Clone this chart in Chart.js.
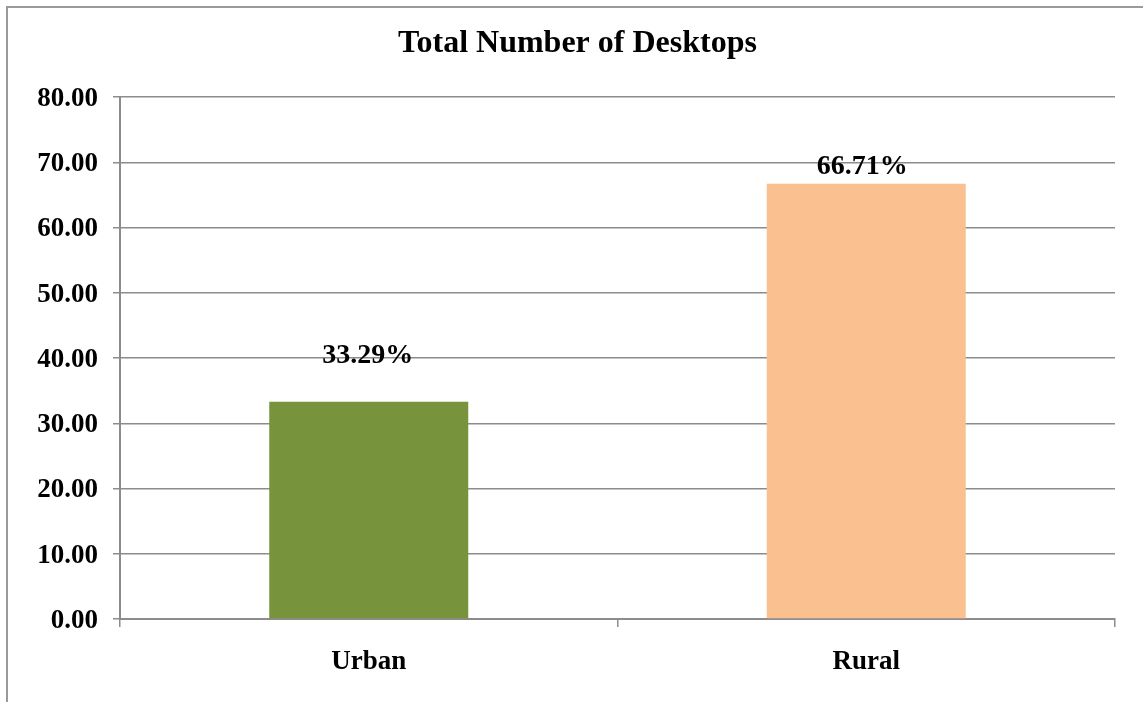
<!DOCTYPE html>
<html>
<head>
<meta charset="utf-8">
<script src="https://cdn.jsdelivr.net/npm/chart.js@4/dist/chart.umd.min.js"></script>
<style>
  html, body { margin: 0; padding: 0; background: #fff; overflow: hidden; }
  #frame {
    position: absolute; left: 6px; top: 6px; width: 1300px; height: 800px;
    border: 2px solid #9a9a9a; box-sizing: border-box;
  }
  #wrap { position: absolute; left: 0; top: 0; width: 1143px; height: 702px; }
</style>
</head>
<body>
<div id="frame"></div>
<div id="wrap"><canvas id="desktopsChart" width="1143" height="702"></canvas></div>
<script>
// data
const categories = ['Urban', 'Rural'];
const desktopShare = [33.29, 66.71];
const valueLabels = ['33.29%', '66.71%'];
const barColors = ['#77933C', '#FAC090'];
const yTicks = [0, 10, 20, 30, 40, 50, 60, 70, 80];
const chartTitle = 'Total Number of Desktops';

// how far above each bar top the label sits (px), and sideways nudge
const labelLift = [46, 17];
const labelShift = [-1, -4];

const serif = "'Liberation Serif', 'Times New Roman', serif";
const gridGray = '#8c8c8c';

// title drawn by hand so it can sit a bit right of the canvas middle (like Excel did)
const excelTitle = {
    id: 'excelTitle',
    afterDraw(chart) {
        const ctx = chart.ctx;
        ctx.save();
        ctx.font = 'bold 32px ' + serif;
        ctx.fillStyle = '#000';
        ctx.textAlign = 'center';
        ctx.textBaseline = 'middle';
        ctx.fillText(chartTitle, (40 + chart.chartArea.right) / 2, 44);
        ctx.restore();
    }
};

// draws the percentage labels above the bars
const barLabels = {
    id: 'barLabels',
    afterDatasetsDraw(chart) {
        const ctx = chart.ctx;
        const meta = chart.getDatasetMeta(0);
        ctx.save();
        ctx.font = 'bold 28px ' + serif;
        ctx.fillStyle = '#000';
        ctx.textAlign = 'center';
        ctx.textBaseline = 'middle';
        meta.data.forEach(function (bar, i) {
            ctx.fillText(valueLabels[i], bar.x + labelShift[i], bar.y - labelLift[i]);
        });
        ctx.restore();
    }
};

const ctx = document.getElementById('desktopsChart').getContext('2d');
const desktopsChart = new Chart(ctx, {
    type: 'bar',
    data: {
        labels: categories,
        datasets: [{
            data: desktopShare,
            backgroundColor: barColors,
            borderWidth: 0,
            categoryPercentage: 1,
            barPercentage: 0.4
        }]
    },
    options: {
        responsive: false,
        animation: false,
        layout: { padding: { left: 0, right: 28, top: 97, bottom: 0 } },
        plugins: {
            legend: { display: false },
            tooltip: { enabled: false },
            title: { display: false }
        },
        scales: {
            x: {
                grid: {
                    display: true,
                    offset: true,
                    drawOnChartArea: false,
                    drawTicks: true,
                    tickLength: 8,
                    color: gridGray,
                    lineWidth: 1.5
                },
                border: { display: true, color: gridGray, width: 2 },
                ticks: {
                    color: '#000',
                    padding: 19,
                    font: { family: serif, size: 27, weight: 'bold' }
                },
                afterFit(scale) { scale.height = 702 - 619; }
            },
            y: {
                min: 0,
                max: 80,
                afterBuildTicks(scale) {
                    scale.ticks = yTicks.map(v => ({ value: v }));
                },
                grid: {
                    color: gridGray,
                    lineWidth: 1.5,
                    drawTicks: true,
                    tickLength: 7
                },
                border: { display: true, color: gridGray, width: 2 },
                ticks: {
                    color: '#000',
                    padding: 15,
                    labelOffset: 2,
                    font: { family: serif, size: 27, weight: 'bold' },
                    callback: v => Number(v).toFixed(2)
                },
                afterFit(scale) { scale.width = 120; }
            }
        }
    },
    plugins: [barLabels, excelTitle]
});
</script>
</body>
</html>
